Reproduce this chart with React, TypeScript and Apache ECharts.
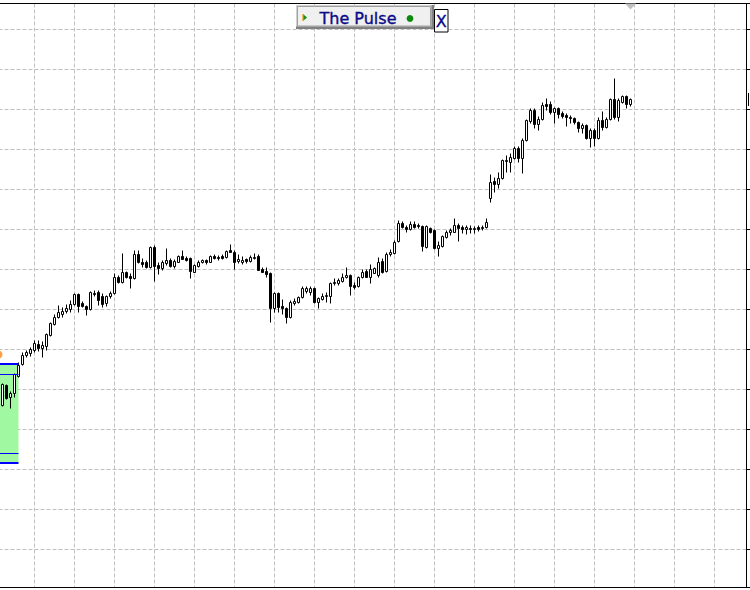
import { useEffect, useRef } from "react";
import * as echarts from "echarts";

// ---- bar data (one entry per bar, oldest first) ----
const opens = [
  1092, 1102, 1096, 1098, 1106.5, 1112.5, 1117, 1118, 1119.5, 1122.5,
  1120.5, 1121.5, 1127, 1132.5, 1136, 1137.5, 1139, 1140, 1142.5, 1147.5,
  1143, 1141.5, 1140, 1148, 1148.5, 1146.5, 1143, 1146.5, 1148, 1156,
  1153.5, 1158.5, 1156.5, 1155.5, 1167.5, 1163.5, 1163.5, 1161, 1171, 1162,
  1160.5, 1163, 1164.5, 1161.5, 1163.5, 1166.5, 1165.5, 1165.5, 1158.5, 1161.5,
  1163.5, 1164.5, 1163.5, 1166.5, 1166, 1166.5, 1166, 1169.5, 1168.5, 1164,
  1163.5, 1165, 1164, 1165.5, 1166.5, 1160, 1159, 1158, 1140.5, 1148,
  1141.5, 1140.5, 1136, 1143, 1143.5, 1146, 1149, 1148.5, 1150.5, 1143.5,
  1145, 1146.5, 1146.5, 1153, 1153, 1154, 1156, 1157, 1152, 1151.5,
  1156, 1159, 1156, 1158, 1157, 1164, 1159, 1167.5, 1168, 1174,
  1183, 1181, 1180, 1182.5, 1182, 1181.5, 1171, 1180.5, 1179.5, 1170.5,
  1171.5, 1176, 1178.5, 1178.5, 1182, 1181, 1180, 1180.5, 1180, 1181,
  1180.5, 1181, 1195.5, 1204, 1202.5, 1205.5, 1214, 1213.5, 1215.5, 1220.5,
  1215.5, 1224.5, 1234, 1239.5, 1232.5, 1235, 1242.5, 1242.5, 1238.5, 1240.5,
  1238, 1237, 1236, 1235.5, 1233.5, 1230.5, 1232, 1225.5, 1229.5, 1225.5,
  1234.5, 1231, 1235, 1245, 1236, 1243.5, 1246.5, 1242.5,
];
const closes = [
  1102.5, 1095.5, 1098, 1107.5, 1112, 1117, 1118.5, 1120, 1123, 1120.5,
  1122, 1127.5, 1133, 1136, 1138.5, 1139, 1140.5, 1142.5, 1147.5, 1141.5,
  1141.5, 1140, 1148.5, 1147.5, 1144.5, 1142.5, 1146.5, 1148, 1156, 1153.5,
  1158.5, 1156, 1155.5, 1167.5, 1163.5, 1162.5, 1161, 1171, 1161.5, 1160.5,
  1163.5, 1164.5, 1161.5, 1164, 1166.5, 1165, 1164.5, 1159, 1162, 1163.5,
  1164.5, 1163.5, 1166.5, 1165.5, 1165.5, 1165.5, 1169, 1168.5, 1163.5, 1165,
  1164.5, 1164, 1166, 1166, 1159.5, 1158.5, 1157.5, 1140.5, 1148, 1141,
  1140.5, 1136, 1143.5, 1144, 1146, 1150.5, 1150.5, 1150.5, 1143.5, 1145.5,
  1146.5, 1147, 1153, 1153.5, 1154.5, 1156, 1157, 1151.5, 1151, 1156,
  1158.5, 1156, 1160, 1160.5, 1163.5, 1158.5, 1167.5, 1168.5, 1173.5, 1183,
  1181, 1180, 1182.5, 1181, 1181.5, 1171.5, 1181.5, 1178.5, 1170.5, 1172,
  1176.5, 1178.5, 1179.5, 1182, 1180.5, 1180, 1181, 1180, 1180.5, 1180,
  1181, 1183.5, 1203.5, 1202.5, 1205.5, 1214.5, 1214.5, 1216, 1220.5, 1215.5,
  1224.5, 1234.5, 1239.5, 1232.5, 1235, 1242, 1241.5, 1238.5, 1240.5, 1237.5,
  1236.5, 1236, 1235.5, 1233.5, 1230.5, 1232, 1225.5, 1229.5, 1225.5, 1234.5,
  1231, 1235, 1245, 1236, 1244.5, 1246.5, 1242.5, 1245,
];
const lows = [
  1091.5, 1095, 1090.5, 1096, 1106, 1112, 1116, 1116.5, 1118.5, 1119,
  1116, 1119.5, 1126.5, 1132, 1135.5, 1136, 1138, 1138.5, 1142, 1138.5,
  1141, 1137, 1139.5, 1146.5, 1142, 1141, 1141.5, 1145.5, 1147.5, 1153,
  1153, 1155.5, 1150.5, 1155, 1163, 1161, 1160.5, 1160.5, 1154, 1157.5,
  1159.5, 1162, 1161, 1160.5, 1163.5, 1165, 1164, 1155.5, 1158.5, 1161,
  1163, 1162.5, 1163.5, 1165, 1164.5, 1165, 1165.5, 1168.5, 1160, 1163,
  1162.5, 1163, 1163.5, 1165, 1159.5, 1158.5, 1156, 1133.5, 1138.5, 1138.5,
  1137.5, 1133, 1135.5, 1142, 1143, 1145.5, 1148, 1147, 1143, 1140.5,
  1144.5, 1143.5, 1143, 1152, 1152, 1153.5, 1155.5, 1147, 1150, 1151,
  1155.5, 1156, 1153, 1158, 1156, 1158, 1158.5, 1166.5, 1167.5, 1173.5,
  1180.5, 1178.5, 1179.5, 1180.5, 1180.5, 1169, 1170.5, 1178, 1170, 1166.5,
  1171, 1175.5, 1177, 1178.5, 1174, 1178, 1177.5, 1178, 1178, 1179,
  1179.5, 1180.5, 1193.5, 1198.5, 1200.5, 1205, 1208.5, 1208.5, 1215, 1213.5,
  1208, 1224, 1233, 1230.5, 1229.5, 1234.5, 1239.5, 1237.5, 1233, 1235.5,
  1235.5, 1231.5, 1233, 1232.5, 1228.5, 1228, 1225, 1221, 1221.5, 1225,
  1229.5, 1230.5, 1234.5, 1235, 1234, 1243, 1240.5, 1241.5,
];
const highs = [
  1103, 1102.5, 1099, 1108, 1113.5, 1118.5, 1119.5, 1121, 1124.5, 1124.5,
  1124, 1128, 1133.5, 1137.5, 1142, 1141, 1142.5, 1144.5, 1148, 1148,
  1144, 1142, 1149, 1149.5, 1149.5, 1148, 1147, 1149, 1158, 1157,
  1168, 1159, 1158, 1169.5, 1169.5, 1165.5, 1164.5, 1171.5, 1172, 1163.5,
  1164.5, 1170.5, 1165.5, 1165, 1167, 1169.5, 1166.5, 1166, 1162.5, 1164.5,
  1165, 1165, 1167, 1167.5, 1167, 1167.5, 1169.5, 1172.5, 1169.5, 1167.5,
  1166.5, 1165.5, 1167, 1168, 1167.5, 1161, 1161, 1158.5, 1148.5, 1148.5,
  1145, 1141, 1144.5, 1145.5, 1146.5, 1151.5, 1151.5, 1151.5, 1151, 1146,
  1148, 1148.5, 1153.5, 1155.5, 1155.5, 1158, 1161, 1157.5, 1153.5, 1156.5,
  1160, 1160, 1162.5, 1161, 1166, 1165.5, 1168.5, 1170, 1174.5, 1184.5,
  1184, 1182, 1184, 1184, 1183, 1182, 1182, 1181, 1180, 1174,
  1177, 1179.5, 1180.5, 1185.5, 1183, 1182, 1182, 1182, 1181.5, 1182,
  1182, 1185.5, 1207.5, 1206, 1208.5, 1215, 1217, 1218, 1221.5, 1221.5,
  1225.5, 1235, 1240.5, 1240.5, 1236.5, 1243.5, 1245.5, 1244, 1241, 1241,
  1239, 1238, 1237, 1236, 1234, 1233, 1232.5, 1230.5, 1230.5, 1236,
  1239, 1236, 1245.5, 1255.5, 1245.5, 1247, 1247, 1245.5,
];

// ---- zone indicator (price levels) and marker ----
const ZONE_TOP = 1112.75;
const ZONE_INNER_TOP = 1107.5;
const ZONE_INNER_BOTTOM = 1068;
const ZONE_BOTTOM = 1063.25;
const ZONE_END_SLOT = 5;
const ORANGE_MARK_PRICE = 1117.5;

// ---- axis set-up ----
const PRICE_MIN = 1001;
const PRICE_MAX = 1293;
const LEAD_SLOTS = 1;
const FUTURE_SLOTS = 29;
const GRID_EVERY = 10;
const GRID_PHASE = 8;

const TITLE = "The Pulse";

export default function App() {
  const ref = useRef<HTMLDivElement>(null);

  useEffect(() => {
    const el = ref.current;
    if (!el) return;
    const chart = echarts.init(el, null, { renderer: "svg" });
    const n = opens.length;
    const categories = Array.from(
      { length: LEAD_SLOTS + n + FUTURE_SLOTS },
      (_, i) => String(i - LEAD_SLOTS)
    );
    const candles = opens.map((o, i) => [i + LEAD_SLOTS, o, closes[i], lows[i], highs[i]]);

    const gridLine = {
      show: true,
      lineStyle: { color: "#c0c0c0", type: [4, 2], width: 1 },
    };
    const frame = { show: true, lineStyle: { color: "#000", width: 1 } };

    chart.setOption({
      animation: false,
      grid: {
        left: -1.5,
        right: 3.5,
        top: 3.5,
        bottom: 2.5,
        containLabel: false,
        outerBoundsMode: "none",
      },
      xAxis: [
        {
          type: "category",
          data: categories,
          boundaryGap: false,
          position: "bottom",
          axisLine: frame,
          axisTick: { show: false },
          axisLabel: { show: false },
          splitLine: {
            ...gridLine,
            interval: (idx: number) => (idx - LEAD_SLOTS) % GRID_EVERY === GRID_PHASE,
          },
        },
        {
          type: "category",
          data: categories,
          boundaryGap: false,
          position: "top",
          axisLine: frame,
          axisTick: { show: false },
          axisLabel: { show: false },
          splitLine: { show: false },
        },
      ],
      yAxis: {
        type: "value",
        position: "right",
        min: PRICE_MIN,
        max: PRICE_MAX,
        splitNumber: 15,
        axisLine: frame,
        axisTick: { show: true, length: 4, inside: false, lineStyle: { color: "#000" } },
        axisLabel: { show: false },
        splitLine: gridLine,
      },
      series: [
        {
          type: "candlestick",
          data: candles,
          encode: { x: 0, y: [1, 2, 3, 4] },
          barWidth: 2,
          itemStyle: {
            color: "#ffffff",
            color0: "#000000",
            borderColor: "#000000",
            borderColor0: "#000000",
            borderColorDoji: "#000000",
            borderWidth: 1,
          },
          markArea: {
            silent: true,
            itemStyle: { color: "#a0f8a0", opacity: 1 },
            label: { show: false },
            data: [[{ coord: [0, ZONE_TOP] }, { coord: [ZONE_END_SLOT, ZONE_BOTTOM] }]],
          },
          markLine: {
            silent: true,
            symbol: ["none", "none"],
            label: { show: false },
            lineStyle: { color: "#0000ff", type: "solid", width: 1 },
            data: [
              [{ coord: [0, ZONE_TOP], lineStyle: { width: 2 } }, { coord: [ZONE_END_SLOT, ZONE_TOP] }],
              [{ coord: [0, ZONE_INNER_TOP] }, { coord: [ZONE_END_SLOT, ZONE_INNER_TOP] }],
              [{ coord: [0, ZONE_INNER_BOTTOM] }, { coord: [ZONE_END_SLOT, ZONE_INNER_BOTTOM] }],
              [{ coord: [0, ZONE_BOTTOM], lineStyle: { width: 2 } }, { coord: [ZONE_END_SLOT, ZONE_BOTTOM] }],
            ],
          },
          markPoint: {
            silent: true,
            symbol: "circle",
            symbolSize: 8,
            label: { show: false },
            itemStyle: { color: "#ffa040" },
            data: [{ coord: [0, ORANGE_MARK_PRICE] }],
          },
        },
      ],
    });

    const lastSlot = LEAD_SLOTS + n - 1;
    const sx = chart.convertToPixel({ xAxisIndex: 0 }, lastSlot) as number;
    const py = chart.convertToPixel({ yAxisIndex: 0 }, closes[n - 1]) as number;

    chart.setOption({
      graphic: [
        {
          type: "polygon",
          z: 100,
          shape: { points: [[sx - 5.5, 3.5], [sx + 5.5, 3.5], [sx, 9.5]] },
          style: { fill: "#c0c0c0" },
        },
        {
          type: "line",
          z: 100,
          shape: { x1: 748.5, y1: py - 6.5, x2: 748.5, y2: py + 6.5 },
          style: { stroke: "#000", lineWidth: 1 },
        },
        {
          type: "group",
          z: 100,
          children: [
            { type: "rect", shape: { x: 296, y: 5, width: 138, height: 24 }, style: { fill: "#808080" } },
            { type: "rect", shape: { x: 296, y: 5, width: 135.5, height: 21.5 }, style: { fill: "#d0d0d0" } },
            {
              type: "rect",
              shape: { x: 297.5, y: 6.5, width: 133, height: 19.5 },
              style: { fill: "#f0f0f0", stroke: "#a0a0a0", lineWidth: 1 },
            },
            {
              type: "polygon",
              shape: { points: [[303, 14], [307, 17.5], [303, 21]] },
              style: { fill: "#1a8c1a" },
            },
            {
              type: "line",
              shape: { x1: 303, y1: 14, x2: 303, y2: 21 },
              style: { stroke: "#f0a000", lineWidth: 1.2 },
            },
            {
              type: "text",
              style: {
                text: TITLE,
                x: 319.5,
                y: 18.5,
                font: '16px "DejaVu Sans"',
                fill: "#0a0a88",
                stroke: "#0a0a88",
                lineWidth: 0.35,
                textAlign: "left",
                textVerticalAlign: "middle",
                align: "left",
                verticalAlign: "middle",
              },
            },
            { type: "circle", shape: { cx: 410, cy: 18.5, r: 3.4 }, style: { fill: "#0a8a0a" } },
            {
              type: "rect",
              shape: { x: 434.5, y: 9.5, width: 13.5, height: 22.5 },
              style: { fill: "#ffffff", stroke: "#000000", lineWidth: 1 },
            },
            {
              type: "text",
              style: {
                text: "X",
                x: 441.2,
                y: 21,
                font: '16px "DejaVu Sans"',
                fill: "#0a0a88",
                stroke: "#0a0a88",
                lineWidth: 0.35,
                textAlign: "center",
                textVerticalAlign: "middle",
                align: "center",
                verticalAlign: "middle",
              },
            },
          ],
        },
      ],
    });

    return () => {
      chart.dispose();
    };
  }, []);

  return (
    <div
      ref={ref}
      style={{ position: "fixed", left: 0, top: 0, width: 750, height: 590, background: "#ffffff" }}
    />
  );
}
